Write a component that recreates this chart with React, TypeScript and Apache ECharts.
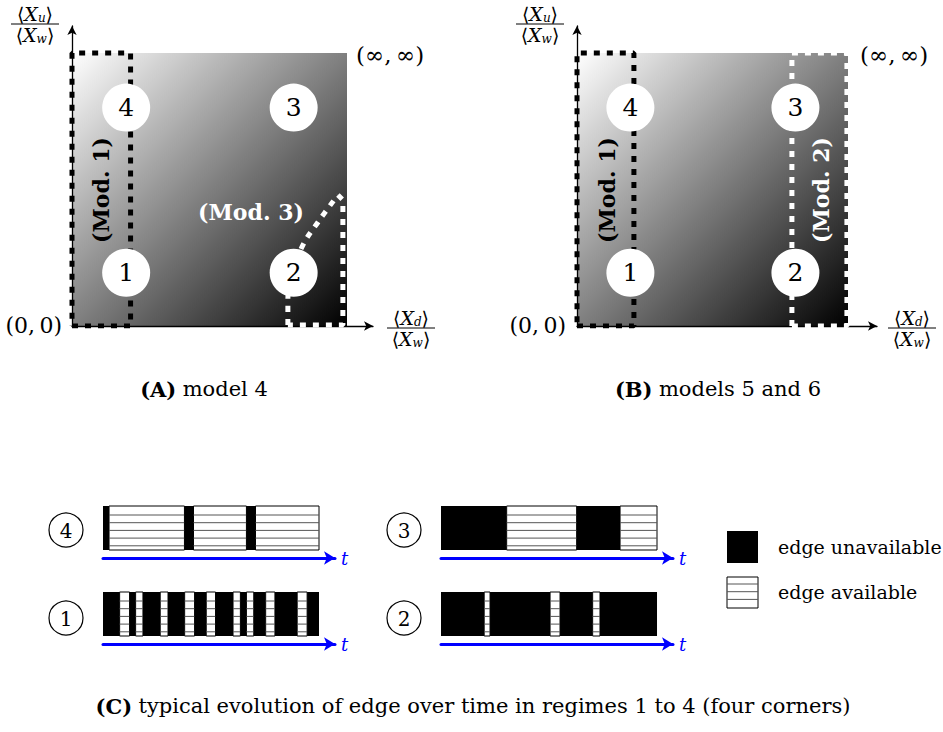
import React, { useEffect, useRef } from 'react';
import * as echarts from 'echarts';

const FONT = '"DejaVu Serif", "Liberation Serif", serif';

// ---------- Panels A and B (normalised square [0,1] x [0,1]) ----------
const squareRect = [[0, 0, 1, 1]];
const regimeLabels = ['1', '2', '3', '4'];
const regimeX = [0.197, 0.806, 0.806, 0.197];
const regimeY = [0.195, 0.195, 0.8, 0.8];

const mod1BoxA = [[0, 0], [0.213, 0], [0.213, 1], [0, 1], [0, 0]];
const mod1BoxB = [[0, 0], [0.21, 0], [0.21, 1], [0, 1], [0, 0]];
const mod2BoxB = [[0.793, 0], [0.996, 0], [0.996, 1], [0.793, 1], [0.793, 0]];
const mod3Curve = [[0.785, 0.004], [0.785, 0.095], [0.804, 0.198], [0.84, 0.297], [0.895, 0.381], [0.967, 0.48]];
const mod3Edge = [[0.967, 0.48], [0.985, 0.462], [0.985, 0.004], [0.785, 0.004]];

// ---------- Panel C: time lines (breakpoints in % of bar, alternating state) ----------
// state 1 = edge unavailable (black), 0 = edge available (striped)
const regime4Breaks = [0, 2.8, 37.7, 41.9, 66.4, 70.6, 100];
const regime1Breaks = [0, 7.7, 12.3, 15.1, 18.5, 26.5, 30.1, 37.8, 42.4, 47.8, 52.1, 60.2, 63.6, 66.4, 69.8, 75.3, 79.6, 89.9, 94.5, 100];
const regime3Breaks = [0, 30.4, 62.8, 82.9, 100];
const regime2Breaks = [0, 20.0, 22.7, 50.5, 55.1, 70.2, 73.6, 100];
const firstStates = [1, 1, 1, 1]; // regimes 4, 1, 3, 2 all start unavailable
const barRegimeLabels = ['4', '1', '3', '2'];
const timeAxisMax = 107.4;

function segments(breaks: number[], first: number) {
  const out: number[][] = [];
  for (let i = 0; i < breaks.length - 1; i++) {
    out.push([breaks[i], breaks[i + 1], i % 2 === 0 ? first : 1 - first]);
  }
  return out;
}

function gradientItem(params: any, api: any) {
  const tl = api.coord([api.value(0), api.value(3)]);
  const br = api.coord([api.value(2), api.value(1)]);
  return {
    type: 'rect',
    shape: { x: tl[0], y: tl[1], width: br[0] - tl[0], height: br[1] - tl[1] },
    style: {
      fill: new echarts.graphic.LinearGradient(0, 0, 1, 1, [
        { offset: 0, color: '#ffffff' },
        { offset: 1, color: '#000000' },
      ]),
    },
  };
}

function segmentItem(params: any, api: any) {
  const s = api.value(0);
  const e = api.value(1);
  const st = api.value(2);
  const tl = api.coord([s, 1]);
  const br = api.coord([e, 0]);
  const x = tl[0], y = tl[1], w = br[0] - tl[0], h = br[1] - tl[1];
  if (st === 1) {
    return { type: 'rect', shape: { x, y, width: w, height: h }, style: { fill: '#000' } };
  }
  const children: any[] = [
    { type: 'rect', shape: { x, y, width: w, height: h }, style: { fill: '#fff', stroke: '#000', lineWidth: 1 } },
  ];
  for (let ly = y + 9; ly < y + h - 2; ly += 7.7) {
    children.push({ type: 'line', shape: { x1: x, y1: ly, x2: x + w, y2: ly }, style: { stroke: '#555', lineWidth: 1 } });
  }
  return { type: 'group', children };
}

function squareAxes(gridIndex: number, xMax: number, yMax: number) {
  const line = {
    show: true,
    onZero: false,
    symbol: ['none', 'arrow'],
    symbolSize: [7, 9],
    lineStyle: { color: '#000', width: 1.3 },
  };
  return {
    x: {
      type: 'value', gridIndex, min: 0, max: xMax, z: 3,
      axisLine: line, axisTick: { show: false }, axisLabel: { show: false }, splitLine: { show: false },
    },
    y: {
      type: 'value', gridIndex, min: 0, max: yMax, z: 3,
      axisLine: line, axisTick: { show: false }, axisLabel: { show: false }, splitLine: { show: false },
    },
  };
}

function dashedLine(name: string, idx: number, data: number[][], color: string, smooth = false) {
  return {
    name, type: 'line', xAxisIndex: idx, yAxisIndex: idx, data, symbol: 'none', smooth: smooth ? 0.4 : false,
    z: 4, silent: true, animation: false,
    lineStyle: { color, width: 5, type: [6, 7], cap: 'butt' },
  };
}

function regimeScatter(idx: number) {
  return {
    type: 'scatter', xAxisIndex: idx, yAxisIndex: idx, z: 5, silent: true,
    symbol: 'circle', symbolSize: 48,
    itemStyle: { color: '#fff', opacity: 1 },
    data: regimeLabels.map((l, i) => ({ name: l, value: [regimeX[i], regimeY[i]] })),
    label: { show: true, position: 'inside', formatter: '{b}', color: '#000', fontSize: 25, fontFamily: FONT },
  };
}

const fracRich = {
  n: { fontSize: 19, fontFamily: FONT, lineHeight: 19, fill: '#000' },
  i: { fontSize: 19, fontFamily: FONT, fontStyle: 'italic', lineHeight: 19, fill: '#000' },
  s: { fontSize: 12, fontFamily: FONT, fontStyle: 'italic', lineHeight: 12, verticalAlign: 'bottom', fill: '#000' },
};

function fraction(cx: number, cy: number, numSub: string, denSub: string) {
  return {
    type: 'group',
    z: 10,
    children: [
      { type: 'text', style: { x: cx, y: cy - 10, text: `{n|⟨}{i|X}{s|${numSub}}{n|⟩}`, rich: fracRich, align: 'center', verticalAlign: 'middle' } },
      { type: 'line', shape: { x1: cx - 24, y1: cy, x2: cx + 24, y2: cy }, style: { stroke: '#000', lineWidth: 1 } },
      { type: 'text', style: { x: cx, y: cy + 11, text: `{n|⟨}{i|X}{s|${denSub}}{n|⟩}`, rich: fracRich, align: 'center', verticalAlign: 'middle' } },
    ],
  };
}

function txt(x: number, y: number, text: string, opts: any = {}) {
  return {
    type: 'text', z: 10,
    rotation: opts.rotation || 0,
    x: opts.rotation ? x : 0, y: opts.rotation ? y : 0,
    style: {
      x: opts.rotation ? 0 : x, y: opts.rotation ? 0 : y, text,
      fill: opts.color || '#000',
      fontSize: opts.size || 20,
      fontFamily: FONT,
      fontWeight: opts.bold ? 'bold' : 'normal',
      fontStyle: opts.italic ? 'italic' : 'normal',
      align: opts.align || 'center', verticalAlign: 'middle',
      rich: opts.rich,
    },
  };
}

function circledNumber(cx: number, cy: number, label: string) {
  return {
    type: 'group', z: 10,
    children: [
      { type: 'circle', shape: { cx, cy, r: 17 }, style: { fill: '#fff', stroke: '#000', lineWidth: 1.2 } },
      { type: 'text', style: { x: cx, y: cy + 1, text: label, fontSize: 20, fontFamily: FONT, fill: '#000', align: 'center', verticalAlign: 'middle' } },
    ],
  };
}

const captionRich = {
  b: { fontWeight: 'bold', fontSize: 21, fontFamily: FONT, fill: '#000' },
  r: { fontSize: 21, fontFamily: FONT, fill: '#000' },
};

export default function App() {
  const ref = useRef<HTMLDivElement>(null);
  useEffect(() => {
    if (!ref.current) return;
    document.body.style.margin = '0';
    const chart = echarts.init(ref.current, undefined, { renderer: 'svg' });

    const axA = squareAxes(0, 301 / 275, 300 / 273);
    const axB = squareAxes(1, 300 / 271, 300 / 273);

    const barGrids = [
      { left: 103, top: 506, width: 232, height: 44 },
      { left: 103, top: 592, width: 232, height: 44 },
      { left: 441, top: 506, width: 232, height: 44 },
      { left: 441, top: 592, width: 232, height: 44 },
    ];
    const barBreaks = [regime4Breaks, regime1Breaks, regime3Breaks, regime2Breaks];

    const barX = barGrids.map((_, k) => ({
      type: 'value', gridIndex: k + 2, min: 0, max: timeAxisMax, offset: 8,
      axisLine: { show: true, onZero: false, symbol: ['none', 'arrow'], symbolSize: [10, 11], lineStyle: { color: '#0000ff', width: 3 } },
      axisTick: { show: false }, axisLabel: { show: false }, splitLine: { show: false },
      name: 't', nameLocation: 'end', nameGap: 6,
      nameTextStyle: { color: '#0000ff', fontStyle: 'italic', fontSize: 18, fontFamily: FONT, verticalAlign: 'middle' },
    }));
    const barY = barGrids.map((_, k) => ({ type: 'value', gridIndex: k + 2, min: 0, max: 1, show: false }));

    const barSeries = barBreaks.map((b, k) => ({
      type: 'custom', xAxisIndex: k + 2, yAxisIndex: k + 2, silent: true, z: 2,
      renderItem: segmentItem,
      data: segments(b, firstStates[k]),
    }));

    const barCircles = [
      circledNumber(66, 530, barRegimeLabels[0]),
      circledNumber(66, 618, barRegimeLabels[1]),
      circledNumber(404, 530, barRegimeLabels[2]),
      circledNumber(404, 618, barRegimeLabels[3]),
    ];

    const stripes: any[] = [];
    for (let ly = 584; ly < 607; ly += 7.7) {
      stripes.push({ type: 'line', shape: { x1: 727, y1: ly, x2: 758, y2: ly }, style: { stroke: '#555', lineWidth: 1 } });
    }

    chart.setOption({
      animation: false,
      tooltip: { show: false },
      grid: [
        { left: 72, top: 26, width: 301, height: 300 },
        { left: 577, top: 26, width: 300, height: 300 },
        ...barGrids,
      ],
      xAxis: [axA.x, axB.x, ...barX],
      yAxis: [axA.y, axB.y, ...barY],
      series: [
        { type: 'custom', xAxisIndex: 0, yAxisIndex: 0, z: 1, silent: true, renderItem: gradientItem, data: squareRect },
        { type: 'custom', xAxisIndex: 1, yAxisIndex: 1, z: 1, silent: true, renderItem: gradientItem, data: squareRect },
        dashedLine('mod1A', 0, mod1BoxA, '#000'),
        dashedLine('mod3curve', 0, mod3Curve, '#fff', true),
        dashedLine('mod3edge', 0, mod3Edge, '#fff'),
        dashedLine('mod1B', 1, mod1BoxB, '#000'),
        dashedLine('mod2B', 1, mod2BoxB, '#fff'),
        regimeScatter(0),
        regimeScatter(1),
        ...barSeries,
      ],
      graphic: [
        fraction(35, 24, 'u', 'w'),
        fraction(411, 328, 'd', 'w'),
        fraction(540, 24, 'u', 'w'),
        fraction(912, 328, 'd', 'w'),
        txt(62, 325, '(0,\u20090)', { size: 22, align: 'right' }),
        txt(356, 55, '(∞,\u2009∞)', { size: 23, align: 'left' }),
        txt(566, 325, '(0,\u20090)', { size: 22, align: 'right' }),
        txt(860, 55, '(∞,\u2009∞)', { size: 23, align: 'left' }),
        txt(101, 190, '(Mod. 1)', { size: 22, bold: true, rotation: Math.PI / 2 }),
        txt(251, 212, '(Mod. 3)', { size: 22, bold: true, color: '#fff' }),
        txt(607, 190, '(Mod. 1)', { size: 22, bold: true, rotation: Math.PI / 2 }),
        txt(821, 190, '(Mod. 2)', { size: 22, bold: true, color: '#fff', rotation: Math.PI / 2 }),
        txt(204, 389, '{b|(A)} {r|model 4}', { rich: captionRich }),
        txt(718, 389, '{b|(B)} {r|models 5 and 6}', { rich: captionRich }),
        txt(473, 706, '{b|(C)} {r|typical evolution of edge over time in regimes 1 to 4 (four corners)}', { rich: captionRich }),
        ...barCircles,
        { type: 'rect', z: 10, shape: { x: 727, y: 531, width: 31, height: 32 }, style: { fill: '#000' } },
        {
          type: 'group', z: 10,
          children: [
            { type: 'rect', shape: { x: 727, y: 577, width: 31, height: 31 }, style: { fill: '#fff', stroke: '#000', lineWidth: 1 } },
            ...stripes,
          ],
        },
        txt(778, 547, 'edge unavailable', { size: 19, align: 'left' }),
        txt(778, 592, 'edge available', { size: 19, align: 'left' }),
      ],
    });
    return () => chart.dispose();
  }, []);
  return <div ref={ref} style={{ position: 'fixed', left: 0, top: 0, width: 943, height: 732 }} />;
}
